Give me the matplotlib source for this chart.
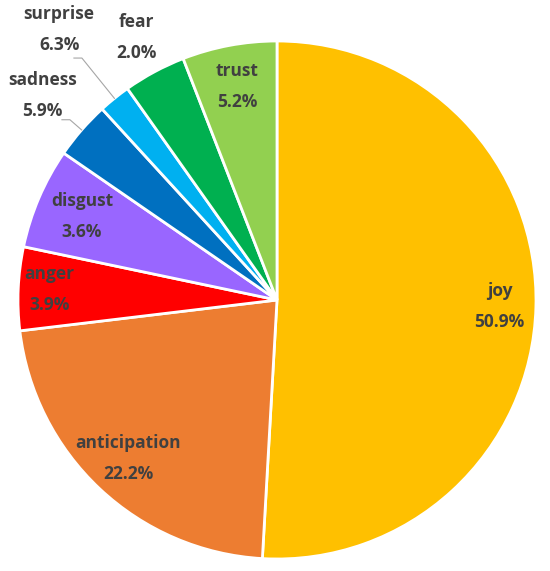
import numpy as np
import matplotlib
matplotlib.use("Agg")
import matplotlib.pyplot as plt

# slice sizes as drawn, and the percentage text printed on each slice
emotions = ["joy", "anticipation", "anger", "disgust", "sadness", "surprise", "fear", "trust"]
slice_sizes = [50.9, 22.2, 5.2, 6.3, 3.6, 2.0, 3.9, 5.9]
pct_labels = ["50.9%", "22.2%", "3.9%", "3.6%", "5.9%", "6.3%", "2.0%", "5.2%"]

colors = ["#FFC000", "#ED7D31", "#FF0000", "#9966FF", "#0070C0", "#00B0F0", "#00B050", "#92D050"]
label_dist = [0.86, 0.84, 0.88, 0.82, 1.20, 1.34, 1.15, 0.84]
elbow = [None, None, None, None, 1.06, 1.20, None, None]   # leader line bend radius

W, H = 550, 571
cx, cy, R = 277, 300, 259

fig = plt.figure(figsize=(W / 100, H / 100), dpi=100)
ax = fig.add_axes([(cx - R) / W, (H - cy - R) / H, 2 * R / W, 2 * R / H])

wedges, _ = ax.pie(slice_sizes, colors=colors, startangle=90, counterclock=False,
                   radius=1.0, wedgeprops=dict(edgecolor="white", linewidth=2))
ax.set_xlim(-1, 1)
ax.set_ylim(-1, 1)
ax.set_aspect("auto")
ax.axis("off")

font = dict(family=["Open Sans", "DejaVu Sans"], fontsize=12.5, fontweight="bold",
            color="#404040", ha="center", va="center")
dy = 15.5 / R

for w, name, pct, d, e in zip(wedges, emotions, pct_labels, label_dist, elbow):
    ang = np.deg2rad((w.theta1 + w.theta2) / 2)
    x, y = d * np.cos(ang), d * np.sin(ang)
    ax.text(x, y + dy, name, clip_on=False, **font)
    ax.text(x, y - dy, pct, clip_on=False, **font)
    if e is not None:
        ex, ey = e * np.cos(ang), e * np.sin(ang)
        ax.plot([np.cos(ang), ex, ex - 8 / R], [np.sin(ang), ey, ey],
                color="#A6A6A6", lw=0.8, clip_on=False)

fig.savefig("out.png", dpi=100)
